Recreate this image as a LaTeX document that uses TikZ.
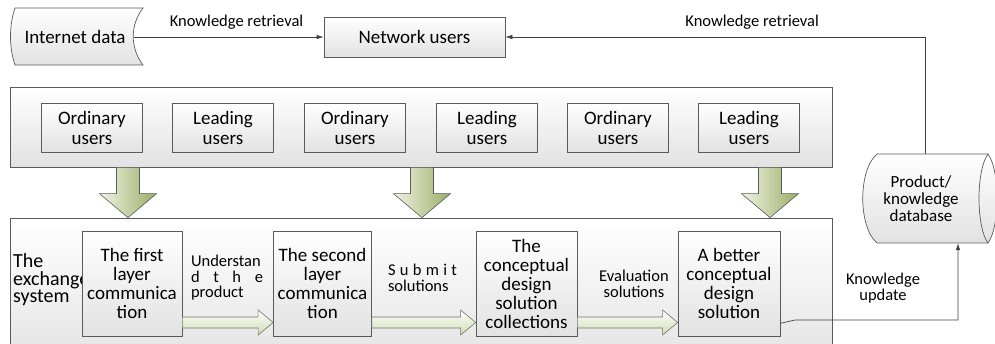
\documentclass[tikz,border=0pt]{standalone}
\usepackage{fontspec}
\setmainfont{Carlito}
\usetikzlibrary{arrows.meta,calc}
\definecolor{edge}{HTML}{5A5A5A}
\definecolor{linec}{HTML}{404040}
\definecolor{boxgray}{HTML}{E2E2E2}
\definecolor{arrlight}{HTML}{F0F3E4}
\definecolor{arrdark}{HTML}{9AAE66}
\definecolor{hollowgreen}{HTML}{CFDDB0}
\begin{document}
\begin{tikzpicture}[x=1pt,y=-1pt,
  boxtxt/.style={font=\fontsize{19}{20}\selectfont, align=center},
  lbl/.style={font=\fontsize{16.5}{15.5}\selectfont, align=center, inner sep=0pt},
  shadebox/.style={draw=edge, line width=0.7pt, top color=white, bottom color=boxgray},
  userbox/.style={shadebox, boxtxt, inner sep=0pt, minimum width=101pt, minimum height=49pt},
  layerbox/.style={shadebox, boxtxt, inner sep=0pt, minimum width=100pt, minimum height=105pt, font=\fontsize{19}{19}\selectfont},
  container/.style={shadebox, inner sep=0pt, minimum width=822pt},
  conn/.style={draw=linec, line width=0.7pt},
  tip/.style={-{Latex[length=7pt,width=4.5pt]}},
  bigarrow/.style={draw=edge, line width=0.6pt, left color=arrlight, right color=arrdark},
  hollow/.style={draw=edge!85, line width=0.6pt, top color=white, bottom color=hollowgreen},
]
\useasboundingbox (0,0) rectangle (995,344);

% ---- top row ----
\path[shadebox] (15,8) -- (143,8) .. controls (130,25) and (130,48) .. (143,65)
  -- (15,65) .. controls (9,48) and (9,25) .. (15,8) -- cycle;
\node[boxtxt, minimum width=118pt, inner sep=0pt] (inet) at (75,37) {Internet data};
\node[shadebox, boxtxt, minimum width=181pt, minimum height=40pt, inner sep=0pt] (nu) at (414.5,37) {Network users};
\draw[conn,tip] (inet.east) -- node[lbl, pos=0.54, above=7pt] {Knowledge retrieval} (nu.west);

% ---- database ----
\path[shadebox] (877,154) -- (988,154) .. controls (1000,170) and (1000,227) .. (988,243)
  -- (877,243) .. controls (858,227) and (858,170) .. (877,154) -- cycle;
\draw[draw=edge, line width=0.7pt] (988,154) .. controls (976,170) and (976,227) .. (988,243);
\node[font=\fontsize{17}{17}\selectfont, align=center, inner sep=0pt, minimum height=89pt, minimum width=100pt] (db) at (921,198.5) {Product/\\knowledge\\database};
\coordinate (up) at (925,154);
\draw[conn,tip] (up) |- node[lbl, pos=0.706, above=7pt] {Knowledge retrieval} (nu.east);

% ---- users container ----
\node[container, minimum height=80pt] (users) at (421,127) {};
\foreach \n/\x/\t in {u1/92/Ordinary, u2/223/Leading, u3/355/Ordinary, u4/487/Leading, u5/618/Ordinary, u6/749/Leading}{
  \node[userbox] (\n) at (\x,127.5) {\t\\users};
}

% ---- exchange container ----
\node[container, minimum height=152pt] (exch) at (421,294) {};
\begin{scope}
  \clip (10,218) rectangle (82,344);
  \node[font=\fontsize{20}{17.5}\selectfont, align=left, inner sep=0pt, anchor=west] (exlabel) at (13,280) {The\\exchange\\system};
\end{scope}

% ---- big arrows ----
\foreach \c in {128,422,770}{
  \path[bigarrow] let \p1=(\c,0), \p2=(users.south), \p3=(exch.north) in
    (\x1-11.5pt,\y2) -- (\x1+11.5pt,\y2) -- (\x1+11.5pt,\y3+24pt) -- (\x1+28.5pt,\y3+24pt)
    -- (\x1,\y3) -- (\x1-28.5pt,\y3+24pt) -- (\x1-11.5pt,\y3+24pt) -- cycle;
}

% ---- layer boxes ----
\node[layerbox] (b1) at (132,283.5) {The first\\layer\\communica\\tion};
\node[layerbox, minimum width=98pt] (b2) at (322.5,283.5) {The second\\layer\\communica\\tion};
\node[layerbox, minimum width=101pt] (b3) at (526.5,283.5) {The\\conceptual\\design\\solution\\collections};
\node[layerbox, minimum width=102pt] (b4) at (729,283.5) {A better\\conceptual\\design\\solution};

% ---- hollow arrows ----
\foreach \a/\b in {b1/b2,b2/b3,b3/b4}{
  \path[hollow] let \p1=(\a.east), \p2=(\b.west), \p3=(0,322.5) in
    (\x1,\y3+5.5pt) -- (\x2-15pt,\y3+5.5pt) -- (\x2-15pt,\y3+12.5pt) -- (\x2,\y3)
    -- (\x2-15pt,\y3-12.5pt) -- (\x2-15pt,\y3-5.5pt) -- (\x1,\y3-5.5pt) -- cycle;
}

% ---- labels on the arrows ----
\node[lbl, align=left] (l1) at (227,278) {\parbox{72pt}{\fontsize{16.5}{15.5}\selectfont Understan\\d\hfill t\hfill h\hfill e\\product}};
\node[lbl, align=left] (l2) at (422.5,278) {\parbox{69pt}{\fontsize{16.5}{15.5}\selectfont S\hfill u\hfill b\hfill m\hfill i\hfill t\\solutions}};
\node[lbl] (l3) at (634,284) {Evaluation\\solutions};

% ---- knowledge update ----
\coordinate (ku1) at (795,320);
\coordinate (ku2) at (958,320);
\draw[conn,tip] ($(b4.south east)+(0,-13)$) -- (ku1) -- (ku2) -- (ku2 |- db.south);
\node[lbl] (l4) at (883,288) {Knowledge\\update};
\end{tikzpicture}
\end{document}
